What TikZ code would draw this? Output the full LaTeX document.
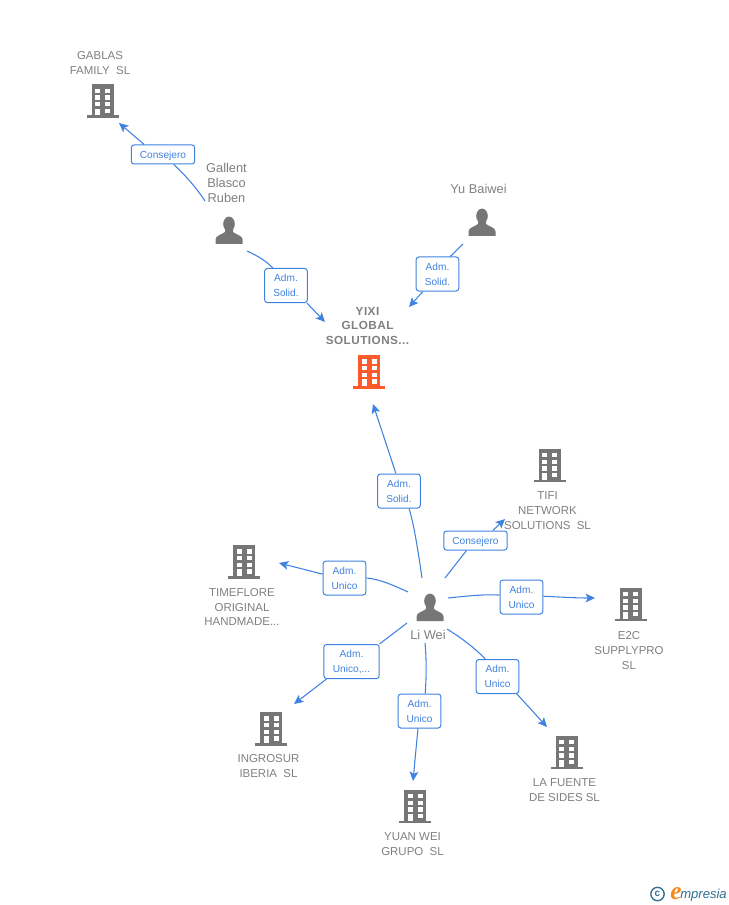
\documentclass[tikz,border=0pt]{standalone}
\usepackage{fontspec}
\setmainfont{Liberation Sans}
\newfontfamily\logoserif{Liberation Serif}
\usetikzlibrary{arrows.meta}
\definecolor{icongrey}{HTML}{767676}
\definecolor{txtgrey}{HTML}{808080}
\definecolor{linkblue}{HTML}{3F82E0}
\definecolor{hotorange}{HTML}{FF5A2B}
\definecolor{logoblue}{HTML}{2F6F8F}
\definecolor{logoorange}{HTML}{F28A1E}
\tikzset{
  x=0.75pt,y=-0.75pt,
  rolebox/.style={draw=linkblue,fill=white,line width=0.75pt,rounded corners=2pt,inner sep=0pt,
    text=linkblue,font=\fontsize{7.6pt}{11.2pt}\selectfont,align=center,text depth=0pt,minimum height=#1*0.75pt},
  rolebox/.default=34,
  w43/.style={minimum width=32pt},
  w63/.style={minimum width=47.5pt},
  nametxt/.style={text=txtgrey,font=\fontsize{8.6pt}{11.2pt}\selectfont,align=center,inner sep=0pt},
  personname/.style={nametxt,font=\fontsize{9.6pt}{11.2pt}\selectfont},
  bigname/.style={nametxt,font=\fontsize{8.8pt}{11.2pt}\selectfont\bfseries\addfontfeature{LetterSpace=4}},
  linkline/.style={draw=linkblue,line width=0.8pt},
  linkarrow/.style={linkline,-{Stealth[length=7pt,width=6.5pt,inset=1.6pt]}},
  building/.pic={
    \fill[#1] (-11,-17) rectangle (11,14);
    \fill[#1] (-16,14) rectangle (16,16.5);
    \foreach \yy in {-12.7,-6,0.7}{
      \fill[white] (-7.5,\yy) rectangle ++(5,4.4);
      \fill[white] (2.5,\yy) rectangle ++(5,4.4);
    }
    \fill[white] (-7.5,7.3) rectangle (-2.5,14);
    \fill[white] (2.5,7.3) rectangle (7.5,11.7);
  },
  personicon/.pic={
    \fill[icongrey] (0,-6) ellipse (5.8 and 7.4);
    \fill[icongrey] (-13.5,14) -- (-13.5,9.5) .. controls (-13.5,5.5) and (-7,4.5) .. (-4,2) -- (-4,-1)
       -- (4,-1) -- (4,2) .. controls (7,4.5) and (13.5,5.5) .. (13.5,9.5) -- (13.5,14) -- cycle;
  }
}
\begin{document}
\begin{tikzpicture}
\useasboundingbox (0,0) rectangle (728,905);
\clip (0,0) rectangle (728,905);

% icons
\pic (gablasicon) at (102.5,101.3) {building=icongrey};
\pic (yixiicon) at (369,372) {building=hotorange};
\pic (tifiicon) at (549.5,465.5) {building=icongrey};
\pic (e2cicon) at (630.5,604.5) {building=icongrey};
\pic (timeicon) at (244,562) {building=icongrey};
\pic (ingroicon) at (271,729) {building=icongrey};
\pic (yuanicon) at (415,806.5) {building=icongrey};
\pic (fuenteicon) at (566.5,752.5) {building=icongrey};
\pic (gallenticon) at (229,230) {personicon};
\pic (yuicon) at (482,222) {personicon};
\pic (liicon) at (430,607) {personicon};

% names
\node[nametxt] (gablas) at (100,63) {GABLAS\\FAMILY\ \ SL};
\node[personname] (gallent) at (226.5,182.5) {Gallent\\Blasco\\Ruben};
\node[personname] (yu) at (478.5,189) {Yu Baiwei};
\node[bigname] (yixi) at (367.5,326) {YIXI\\GLOBAL\\SOLUTIONS...};
\node[nametxt] (tifi) at (547.5,511) {TIFI\\NETWORK\\SOLUTIONS\ \ SL};
\node[nametxt] (e2c) at (629,650.5) {E2C\\SUPPLYPRO\\SL};
\node[nametxt] (time) at (242,607) {TIMEFLORE\\ORIGINAL\\HANDMADE...};
\node[nametxt] (ingro) at (268.5,766.5) {INGROSUR\\IBERIA\ \ SL};
\node[nametxt] (yuan) at (412.5,844.5) {YUAN WEI\\GRUPO\ \ SL};
\node[nametxt] (fuente) at (564.5,790.5) {LA FUENTE\\DE SIDES SL};
\node[personname] (li) at (428,635) {Li Wei};

% role boxes
\node[rolebox=19,w63] (r1) at (163,154.5) {Consejero};
\node[rolebox,w43] (r2) at (286,285.5) {Adm.\\Solid.};
\node[rolebox,w43] (r3) at (437.5,274) {Adm.\\Solid.};
\node[rolebox,w43] (r4) at (399,491) {Adm.\\Solid.};
\node[rolebox=19,w63] (r5) at (475.5,540.5) {Consejero};
\node[rolebox,w43] (r6) at (521.5,597) {Adm.\\Unico};
\node[rolebox,w43] (r7) at (497.5,676.5) {Adm.\\Unico};
\node[rolebox,w43] (r8) at (419.5,711) {Adm.\\Unico};
\node[rolebox,minimum width=41.5pt] (r9) at (351.5,661.5) {Adm.\\Unico,...};
\node[rolebox,w43] (r10) at (344.5,578) {Adm.\\Unico};

% connector ends
\coordinate (s1) at (205,201);  \coordinate (t1) at (119,123);
\coordinate (s2) at (247,251);  \coordinate (t2) at (325,322);
\coordinate (s3) at (463,244);  \coordinate (t3) at (409,307);
\coordinate (s4) at (422,578);  \coordinate (t4) at (373,404);
\coordinate (s5) at (445,578);  \coordinate (t5) at (505,519);
\coordinate (s6) at (448,598);  \coordinate (t6) at (595,598);
\coordinate (s7) at (447,629);  \coordinate (t7) at (547,727);
\coordinate (s8) at (425,643);  \coordinate (t8) at (413,781);
\coordinate (s9) at (407,623);  \coordinate (t9) at (294,704);
\coordinate (s10) at (408,592); \coordinate (t10) at (279,563);

% connectors
\draw[linkline] (s1) .. controls (195,186) and (185,175) .. (r1.-43);
\draw[linkarrow] (r1.152) -- (t1);
\draw[linkline] (s2) .. controls (258,256) and (266,261) .. (r2.127);
\draw[linkarrow] (r2.-40) -- (t2);
\draw[linkline] (s3) -- (r3.54);
\draw[linkarrow] (r3.230) -- (t3);
\draw[linkline] (s4) .. controls (418,550) and (414,525) .. (r4.-60);
\draw[linkarrow] (r4.100) -- (t4);
\draw[linkline] (s5) -- (r5.228);
\draw[linkarrow] (r5.30) -- (t5);
\draw[linkline] (s6) .. controls (468,596) and (485,594) .. (r6.175);
\draw[linkarrow] (r6.2) .. controls (560,597) and (575,598) .. (t6);
\draw[linkline] (s7) .. controls (460,637) and (475,648) .. (r7.125);
\draw[linkarrow] (r7.-42) -- (t7);
\draw[linkline] (s8) .. controls (427,665) and (426,682) .. (r8.72);
\draw[linkarrow] (r8.265) -- (t8);
\draw[linkline] (s9) -- (r9.32.5);
\draw[linkarrow] (r9.215.5) -- (t9);
\draw[linkline] (s10) .. controls (395,586) and (380,579) .. (r10.0);
\draw[linkarrow] (r10.170) -- (t10);

% logo
\node[circle,draw=logoblue,line width=1pt,minimum size=10pt,inner sep=0pt,text=logoblue,font=\bfseries\fontsize{7.5pt}{8pt}\selectfont] (copyr) at (657.5,894) {c};
\node[anchor=base west,inner sep=0pt,text=logoorange,font=\logoserif\bfseries\itshape\fontsize{19pt}{19pt}\selectfont] (logoe) at (670,899) {e};
\node[anchor=base west,inner sep=0pt,text=logoblue,font=\itshape\fontsize{9.8pt}{10pt}\selectfont] (logotext) at (680,898) {mpresia};
\end{tikzpicture}
\end{document}
